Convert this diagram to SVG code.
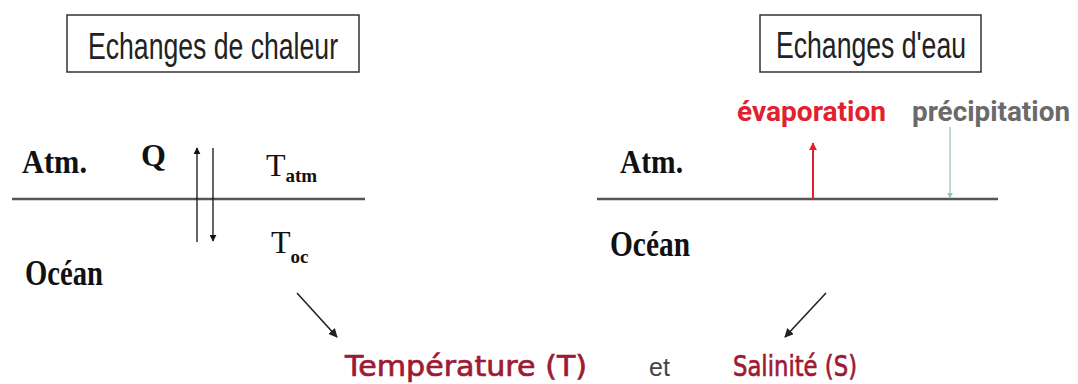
<svg xmlns="http://www.w3.org/2000/svg" width="1078" height="384" viewBox="0 0 1078 384">
<style>
.box{fill:#fff;stroke:#333;stroke-width:1.5}
.hdr{font-family:"Liberation Sans",Arial,sans-serif;font-size:36px;fill:#222}
.tb{font-family:"Liberation Serif","Times New Roman",serif;font-weight:bold;fill:#111}
.tr{font-family:"Liberation Serif","Times New Roman",serif;fill:#111}
.sea{stroke:#555;stroke-width:2.5;fill:none}
.blk{stroke:#111;stroke-width:1.3;fill:none}
.res{font-family:"DejaVu Sans",sans-serif;font-size:29px;fill:#9e1a33;stroke:#9e1a33;stroke-width:0.7}
.lbl{font-family:Roboto,"Liberation Sans",sans-serif;font-weight:bold;font-size:28px}
</style>
<defs>
<marker id="ab" viewBox="0 0 10 10" refX="9" refY="5" markerWidth="7" markerHeight="7" orient="auto" markerUnits="userSpaceOnUse"><path d="M0,0 L10,5 L0,10 z" fill="#111"/></marker>
<marker id="ar" viewBox="0 0 10 10" refX="9" refY="5" markerWidth="8" markerHeight="8" orient="auto" markerUnits="userSpaceOnUse"><path d="M0,0 L10,5 L0,10 z" fill="#e3202e"/></marker>
<marker id="at" viewBox="0 0 10 10" refX="9" refY="5" markerWidth="6" markerHeight="6" orient="auto" markerUnits="userSpaceOnUse"><path d="M0,0 L10,5 L0,10 z" fill="#8cc8b8"/></marker>
<marker id="ad" viewBox="0 0 10 10" refX="9" refY="5" markerWidth="9" markerHeight="9" orient="auto" markerUnits="userSpaceOnUse"><path d="M0,0 L10,5 L0,10 z" fill="#222"/></marker>
</defs>

<g id="heat-box">
<rect class="box" x="67" y="15" width="292" height="57"/>
<text class="hdr" x="88" y="59" textLength="250" lengthAdjust="spacingAndGlyphs">Echanges de chaleur</text>
</g>

<g id="water-box">
<rect class="box" x="760" y="15" width="221" height="57"/>
<text class="hdr" x="776" y="58" textLength="190" lengthAdjust="spacingAndGlyphs">Echanges d'eau</text>
</g>

<g id="heat-panel">
<line class="sea" x1="12" y1="199" x2="365" y2="199"/>
<text class="tb" x="22" y="173" font-size="33" textLength="65" lengthAdjust="spacingAndGlyphs">Atm.</text>
<text class="tb" x="141" y="166" font-size="32">Q</text>
<text class="tr" x="266" y="176" font-size="32">T<tspan font-size="19" font-weight="bold" dy="6">atm</tspan></text>
<text class="tr" x="271" y="253" font-size="32">T<tspan font-size="19" font-weight="bold" dy="10">oc</tspan></text>
<text class="tb" x="25" y="285" font-size="35" textLength="78" lengthAdjust="spacingAndGlyphs">Océan</text>
</g>

<g id="water-panel">
<line class="sea" x1="597" y1="199" x2="998" y2="199"/>
<text class="tb" x="620" y="173" font-size="33" textLength="63" lengthAdjust="spacingAndGlyphs">Atm.</text>
<text class="tb" x="610" y="256" font-size="35" textLength="80" lengthAdjust="spacingAndGlyphs">Océan</text>
<text class="lbl" x="737" y="121" fill="#e3202e" textLength="149" lengthAdjust="spacingAndGlyphs">évaporation</text>
<text class="lbl" x="912" y="121" fill="#6a6a6a" textLength="158" lengthAdjust="spacingAndGlyphs">précipitation</text>
</g>

<g id="results">
<text class="res" x="345" y="376" textLength="242" lengthAdjust="spacingAndGlyphs">Température (T)</text>
<text x="649" y="376" font-family="'Liberation Sans',Arial,sans-serif" font-size="25" fill="#444">et</text>
<text class="res" x="733" y="376" textLength="124" lengthAdjust="spacingAndGlyphs">Salinité (S)</text>
</g>

<g id="connectors">
<line class="blk" x1="197" y1="242" x2="197" y2="148" marker-end="url(#ab)"/>
<line class="blk" x1="213" y1="148" x2="213" y2="241" marker-end="url(#ab)"/>
<line x1="813" y1="199" x2="813" y2="143" stroke="#e3202e" stroke-width="2" marker-end="url(#ar)"/>
<line x1="950" y1="127" x2="950" y2="198" stroke="#8cc8b8" stroke-width="1.2" marker-end="url(#at)"/>
<line x1="297" y1="293" x2="337" y2="337" stroke="#222" stroke-width="1.6" marker-end="url(#ad)"/>
<line x1="826" y1="293" x2="785" y2="337" stroke="#222" stroke-width="1.6" marker-end="url(#ad)"/>
</g>
</svg>
